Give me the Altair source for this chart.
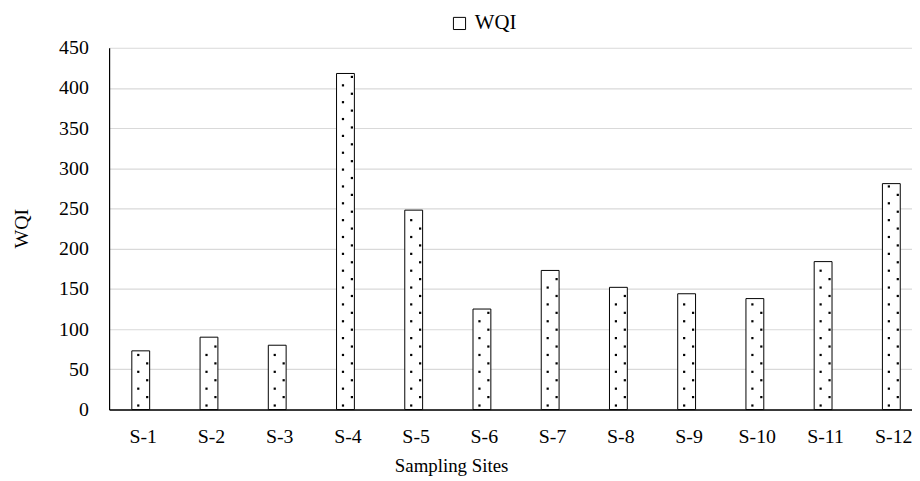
import altair as alt
import pandas as pd

sites = ["S-1", "S-2", "S-3", "S-4", "S-5", "S-6", "S-7", "S-8", "S-9", "S-10", "S-11", "S-12"]
wqi = [73, 90, 80, 418, 248, 125, 173, 152, 144, 138, 184, 281]

df = pd.DataFrame({"site": sites, "wqi": wqi, "series": ["WQI"] * len(sites)})

# decorative dotted texture rows (pattern fill emulation), offsets in px from bar's left edge
rows = []
step_units = 10.48
for s, v in zip(sites, wqi):
    k = 0
    y = 5.0
    while y < v - 3:
        rows.append({"site": s, "y": y, "off": 6.5 if k % 2 == 0 else 15.5})
        k += 1
        y += step_units
dots = pd.DataFrame(rows)

FONT = "Liberation Serif"
x_scale = alt.Scale(domain=sites, range=[0, 826], paddingInner=0.667, paddingOuter=0.333)
y_scale = alt.Scale(domain=[0, 450], nice=False)

x_axis = alt.Axis(
    title="Sampling Sites", labelAngle=0, ticks=False, grid=False,
    domainColor="black", domainWidth=1.5, labelFont=FONT, labelFontSize=20,
    labelColor="black", labelPadding=17, titleFont=FONT, titleFontSize=19,
    titleFontWeight="normal", titleColor="black", titleX=345, titleY=63,
    titleAlign="center", titleBaseline="alphabetic", titleAnchor="start",
)
y_axis = alt.Axis(
    title="WQI", values=list(range(0, 451, 50)), ticks=False, grid=True,
    gridColor="#d9d9d9", gridWidth=1.2, domainColor="black", domainWidth=1.2,
    labelFont=FONT, labelFontSize=20, labelColor="black", labelPadding=21,
    titleFont=FONT, titleFontSize=20, titleFontWeight="normal", titleColor="black",
    titleX=-88, titleY=182, titleAngle=270, titleAlign="center", titleBaseline="middle",
    titleAnchor="start",
)

bars = alt.Chart(df).mark_bar(stroke="black", strokeWidth=1).encode(
    x=alt.X("site:N", scale=x_scale, axis=x_axis, sort=sites),
    y=alt.Y("wqi:Q", scale=y_scale, axis=y_axis),
    fill=alt.Fill(
        "series:N",
        scale=alt.Scale(domain=["WQI"], range=["white"]),
        legend=alt.Legend(
            title=None, orient="none", legendX=343, legendY=-35,
            symbolType="square", symbolSize=150, symbolStrokeColor="black",
            symbolStrokeWidth=1, labelFont=FONT, labelFontSize=21,
            labelColor="black", labelOffset=5,
        ),
    ),
)

dot_layer = alt.Chart(dots).mark_square(size=5, color="black", opacity=1).encode(
    x=alt.X("site:N", scale=x_scale, sort=sites),
    xOffset=alt.XOffset("off:Q", scale=alt.Scale(domain=[0, 23], range=[0, 23])),
    y=alt.Y("y:Q", scale=y_scale),
)

chart = alt.layer(bars, dot_layer).properties(
    width=810, height=365,
    autosize=alt.AutoSizeParams(type="none"),
    padding={"left": 102, "top": 38, "right": 0, "bottom": 70},
).configure(background="white", font=FONT).configure_view(stroke=None).configure_axis(
    labelFont=FONT, titleFont=FONT
).configure_legend(labelFont=FONT)

chart.save("out.html", embed_options={"renderer": "svg", "actions": False})
